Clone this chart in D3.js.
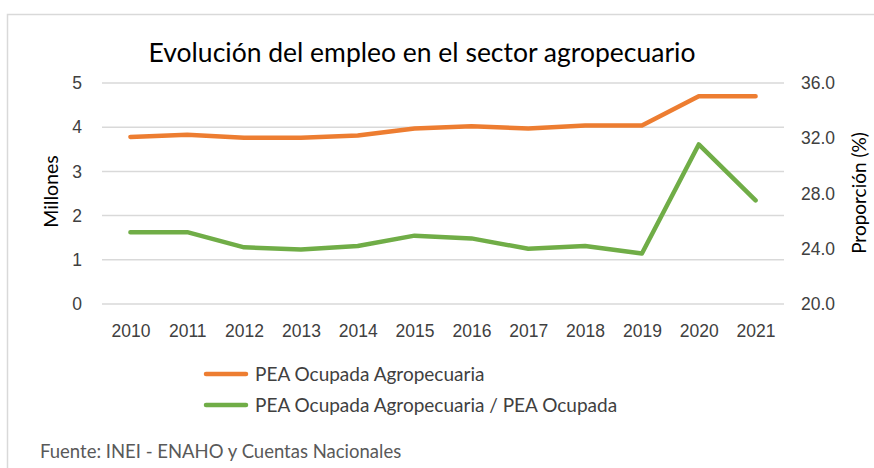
<!DOCTYPE html>
<html>
<head>
<meta charset="utf-8">
<script src="https://cdn.jsdelivr.net/npm/d3@7"></script>
<style>
  body { margin: 0; background: #fff; }
  svg { font-family: Lato, "Liberation Sans", sans-serif; }
</style>
</head>
<body>
<div id="chart"></div>
<script>
const anos = ["2010", "2011", "2012", "2013", "2014", "2015", "2016", "2017", "2018", "2019", "2020", "2021"];
const peaAgro = [3.78, 3.83, 3.76, 3.76, 3.81, 3.97, 4.02, 3.97, 4.04, 4.04, 4.70, 4.70];
const proporcion = [25.2, 25.2, 24.1, 23.95, 24.2, 24.95, 24.75, 24.0, 24.2, 23.65, 31.55, 27.5];
const ticksIzq = [0, 1, 2, 3, 4, 5];
const ticksDer = [20, 24, 28, 32, 36];
const titulo = "Evolución del empleo en el sector agropecuario";
const series = [
    { nombre: "PEA Ocupada Agropecuaria", color: "#ED7D31" },
    { nombre: "PEA Ocupada Agropecuaria / PEA Ocupada", color: "#70AD47" }
];
const fuente = "Fuente: INEI - ENAHO y Cuentas Nacionales";

const width = 874, height = 468;
const margen = { left: 102, right: 90, top: 83, bottom: 164 };
const textoColor = "#404040";

const svg = d3.select("#chart").append("svg").attr("width", width).attr("height", height);

// marco del gráfico
svg.append("rect")
    .attr("x", 7.5).attr("y", 14.5)
    .attr("width", width + 10).attr("height", height + 10)
    .attr("fill", "none").attr("stroke", "#d9d9d9").attr("stroke-width", 1.5);

const x = d3.scalePoint().domain(anos).range([margen.left, width - margen.right]).padding(0.5);
const yIzq = d3.scaleLinear().domain([0, 5]).range([height - margen.bottom, margen.top]);
const yDer = d3.scaleLinear().domain([20, 36]).range([height - margen.bottom, margen.top]);

// grilla
svg.append("g").selectAll("line").data(ticksIzq).enter().append("line")
    .attr("x1", margen.left).attr("x2", width - margen.right)
    .attr("y1", d => yIzq(d)).attr("y2", d => yIzq(d))
    .attr("stroke", "#d9d9d9").attr("stroke-width", 1.5);

// eje izquierdo
const ejeIzq = svg.append("g")
    .attr("transform", `translate(${margen.left - 20},0)`)
    .call(d3.axisLeft(yIzq).tickValues(ticksIzq).tickFormat(d3.format("d")).tickSize(0).tickPadding(0));
ejeIzq.select(".domain").remove();
ejeIzq.selectAll("text").attr("font-size", 17.5).attr("fill", textoColor).style("font-family", "inherit");

// eje derecho
const ejeDer = svg.append("g")
    .attr("transform", `translate(${width - margen.right + 17},0)`)
    .call(d3.axisRight(yDer).tickValues(ticksDer).tickFormat(d3.format(".1f")).tickSize(0).tickPadding(0));
ejeDer.select(".domain").remove();
ejeDer.selectAll("text").attr("font-size", 17.5).attr("fill", textoColor).style("font-family", "inherit");

// eje x
const ejeX = svg.append("g")
    .attr("transform", `translate(0,${height - margen.bottom + 14})`)
    .call(d3.axisBottom(x).tickSize(0).tickPadding(7));
ejeX.select(".domain").remove();
ejeX.selectAll("text").attr("font-size", 17.5).attr("fill", textoColor).style("font-family", "inherit");

// títulos de ejes
svg.append("text").text("Millones")
    .attr("transform", `translate(58,${yIzq(2.5) - 2}) rotate(-90)`)
    .attr("text-anchor", "middle").attr("font-size", 19.5).attr("fill", "#000");
svg.append("text").text("Proporción (%)")
    .attr("transform", `translate(866,193) rotate(-90)`)
    .attr("text-anchor", "middle").attr("font-size", 19).attr("fill", "#000");

// título
svg.append("text").text(titulo)
    .attr("x", 422).attr("y", 62)
    .attr("text-anchor", "middle").attr("font-size", 26.5).attr("fill", "#000");

// líneas
const lineaIzq = d3.line().x((d, i) => x(anos[i])).y(d => yIzq(d));
const lineaDer = d3.line().x((d, i) => x(anos[i])).y(d => yDer(d));

svg.append("path").datum(peaAgro)
    .attr("d", lineaIzq).attr("fill", "none")
    .attr("stroke", series[0].color).attr("stroke-width", 4.5)
    .attr("stroke-linecap", "round").attr("stroke-linejoin", "round");
svg.append("path").datum(proporcion)
    .attr("d", lineaDer).attr("fill", "none")
    .attr("stroke", series[1].color).attr("stroke-width", 4.5)
    .attr("stroke-linecap", "round").attr("stroke-linejoin", "round");

// leyenda
const leyenda = svg.append("g").selectAll("g").data(series).enter().append("g")
    .attr("transform", (d, i) => `translate(206,${374 + i * 31})`);
leyenda.append("line")
    .attr("x1", 0).attr("x2", 40).attr("y1", 0).attr("y2", 0)
    .attr("stroke", d => d.color).attr("stroke-width", 4.5).attr("stroke-linecap", "round");
leyenda.append("text").text(d => d.nombre)
    .attr("x", 49).attr("y", 6.5)
    .attr("font-size", 19).attr("fill", textoColor);

// fuente
svg.append("text").text(fuente)
    .attr("x", 40).attr("y", 458)
    .attr("font-size", 18.5).attr("fill", "#595959");
</script>
</body>
</html>
